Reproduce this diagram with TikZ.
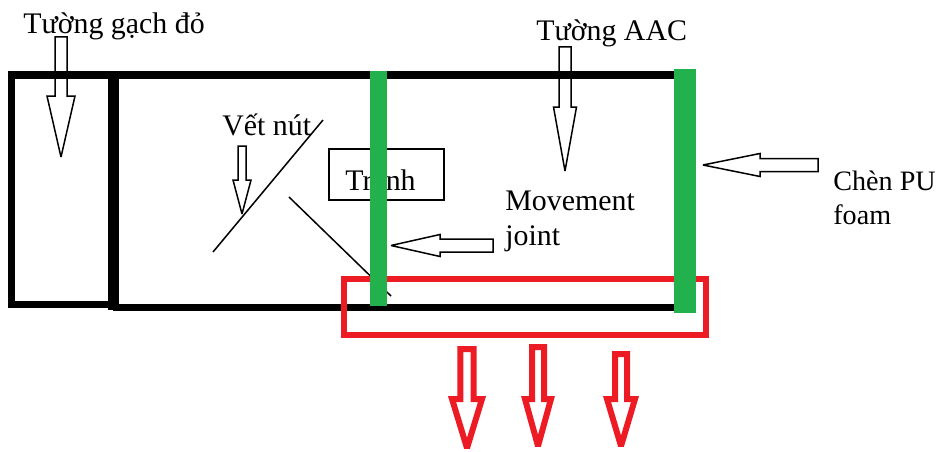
\documentclass[tikz,border=0pt]{standalone}
\usepackage{fontspec}
\setmainfont{Liberation Serif}
\newcommand{\downblock}[7]{\draw[#1] (#2-#5,#3) -- (#2+#5,#3) -- (#2+#5,#4) -- (#2+#6,#4) -- (#2,#7) -- (#2-#6,#4) -- (#2-#5,#4) -- cycle;}
\newcommand{\leftblock}[7]{\draw[#1] (#3,#2-#5) -- (#3,#2+#5) -- (#4,#2+#5) -- (#4,#2+#6) -- (#7,#2) -- (#4,#2-#6) -- (#4,#2-#5) -- cycle;}
\tikzset{
	wall/.style={line width=1.4mm, color=black},
	thin line/.style={line width=.3mm, color=black},
	block/.style={line width=.3mm, color=black, miter limit=2},
	red block/.style={line width=1.2mm, color=alarm, miter limit=2},
	label/.style={font=\fontsize{17pt}{20pt}\selectfont, inner sep=0pt, anchor=base west},
	small label/.style={label, font=\fontsize{16pt}{20pt}\selectfont}
}
\definecolor{alarm}{RGB}{237,28,36}
\definecolor{foam}{RGB}{34,177,76}
\begin{document}
\begin{tikzpicture}[x=.2mm, y=-.2mm]
	\useasboundingbox (0,0) rectangle (940,451);
	% walls
	\draw[wall] (113,304) -- (11,304) -- (11,75) -- (680,75);
	\draw[wall] (113,307) -- (680,307);
	\draw[wall, line width=2.2mm] (113.5,72) -- (113.5,310);
	% crack lines and picture
	\draw[thin line] (213,252) -- (323,120);
	\draw[thin line] (289,197) -- (391,296);
	\node[draw, thin line, minimum width=23mm, minimum height=10.2mm, inner sep=0pt] (picture) at (386.5,174.5) {};
	\node[label] (picturetext) at (345,190) {Tranh};
	% red zone and foam joints
	\draw[color=alarm, line width=1.2mm] (344,279) rectangle (706,335);
	\fill[color=foam] (370,71) rectangle (386.5,306);
	\fill[color=foam] (674,69) rectangle (696,313);
	% black block arrows
	\downblock{block}{61}{37}{96}{6}{14}{157}
	\downblock{block}{565}{47}{107}{6}{11.5}{171}
	\downblock{block}{242}{146}{180}{4}{9}{214}
	\leftblock{block}{245.5}{493}{440}{6.5}{11}{391}
	\leftblock{block}{165}{818}{760}{6.5}{11.5}{703}
	% red block arrows
	\downblock{red block}{467}{349}{399}{6.7}{15}{448}
	\downblock{red block}{538}{347}{399}{6}{13}{446}
	\downblock{red block}{621}{354}{399}{6}{14}{446}
	% labels
	\node[label] (brick) at (23,34) {Tường gạch đỏ};
	\node[label] (aac) at (536,41) {Tường AAC};
	\node[label] (crack) at (222,135) {Vết nút};
	\node[label] (movement) at (505,210) {Movement};
	\node[label] (joint) at (505,245) {joint};
	\node[small label] (pu) at (833,190) {Chèn PU};
	\node[small label] (puform) at (833,224) {foam};
\end{tikzpicture}
\end{document}
